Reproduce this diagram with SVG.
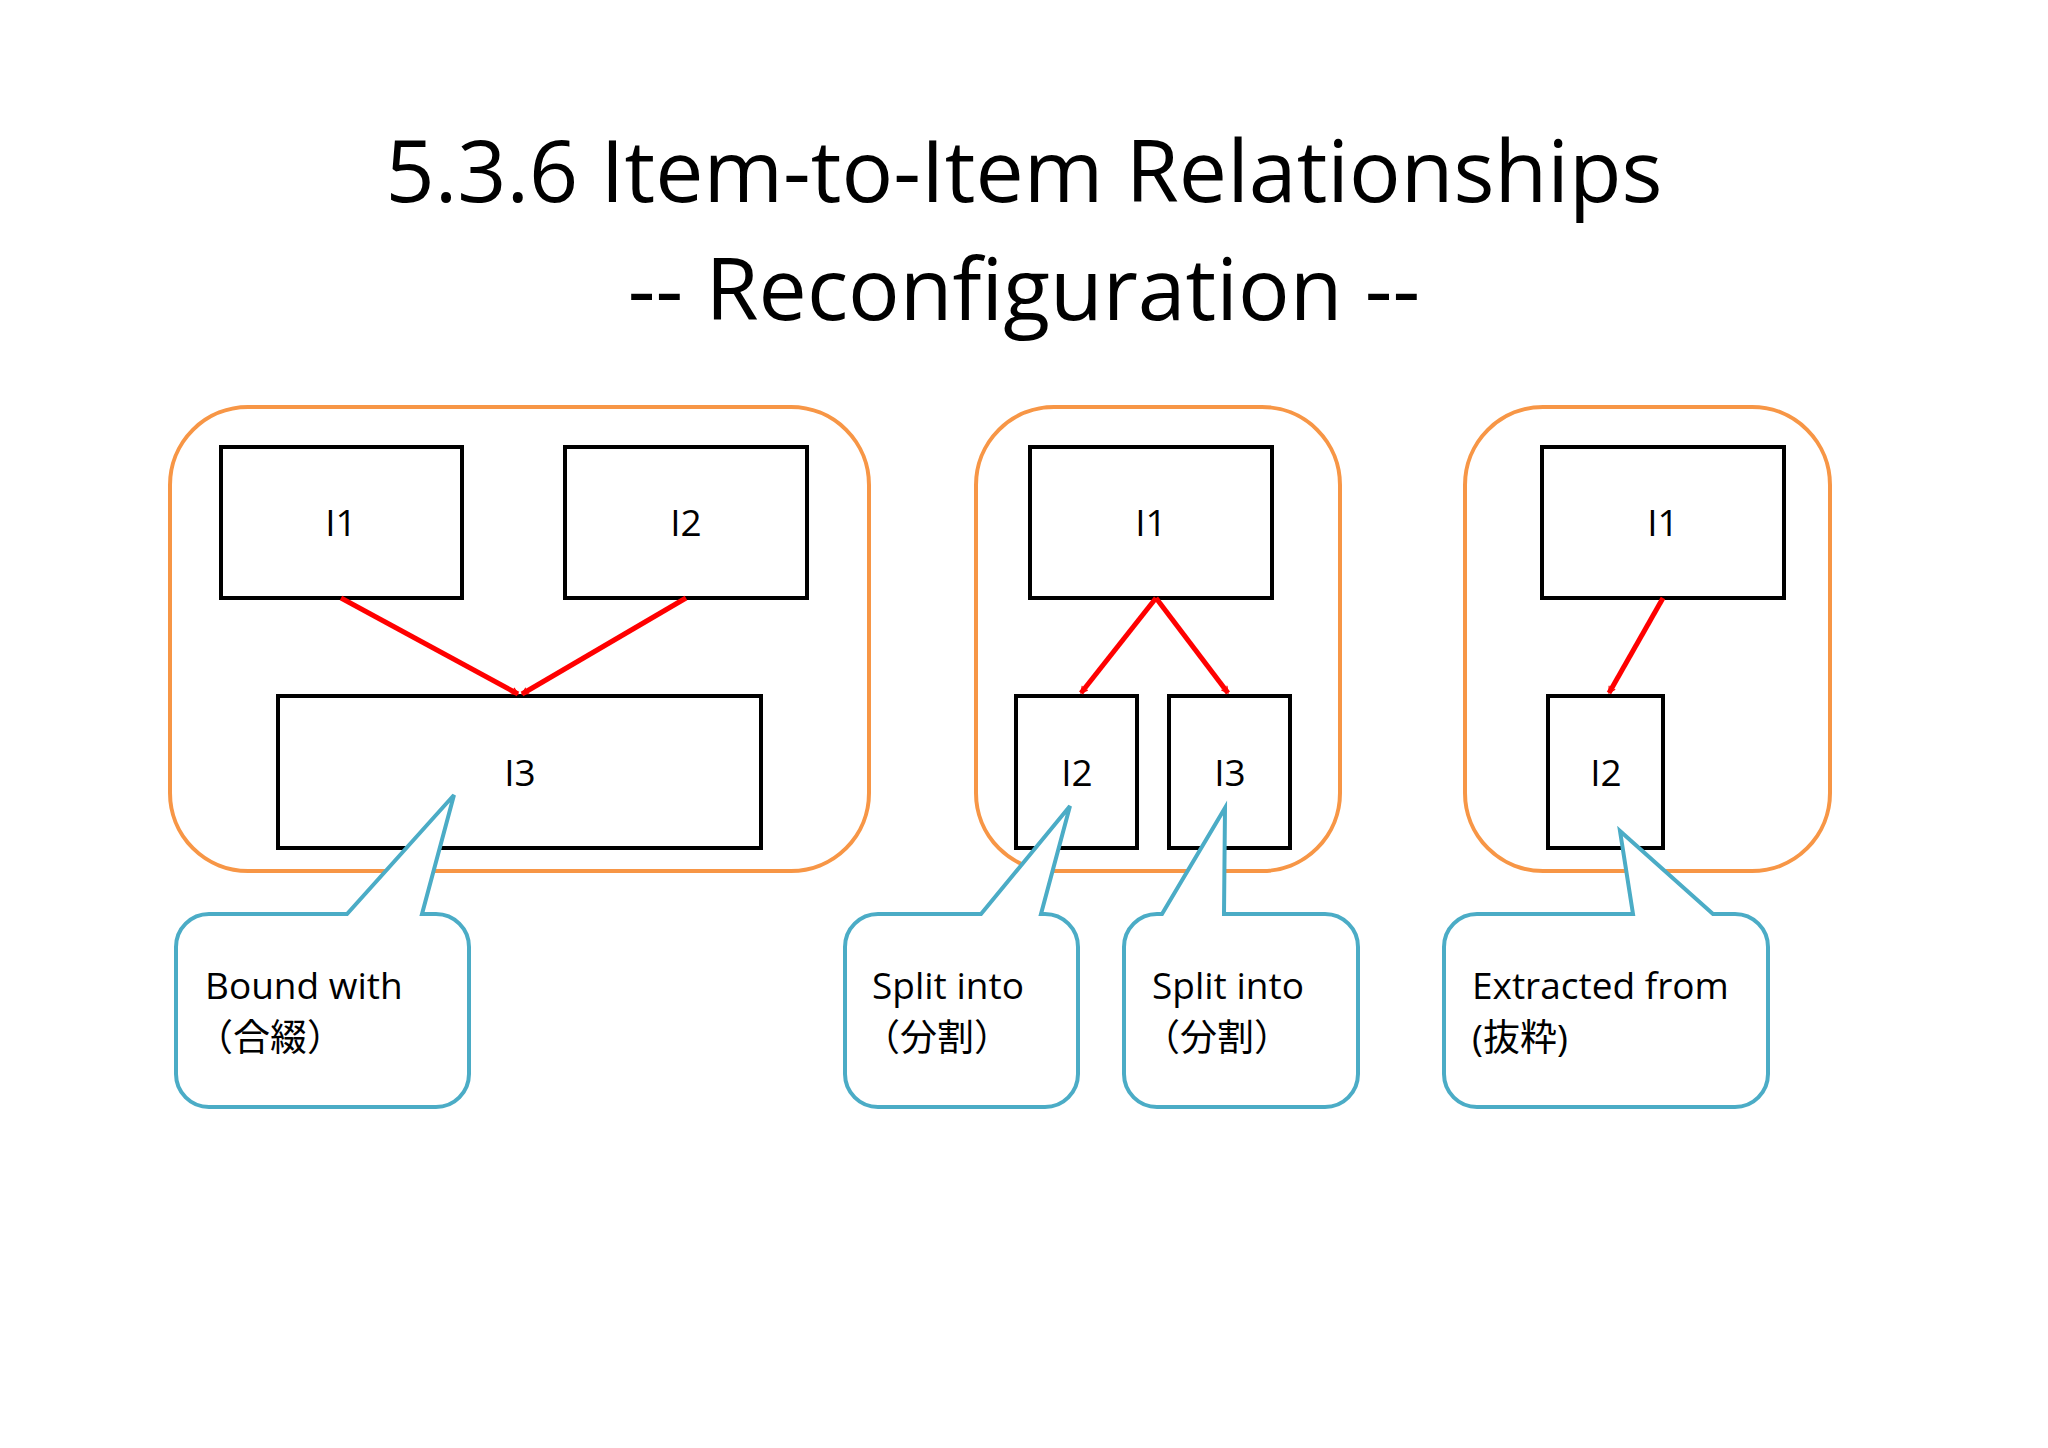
<svg xmlns="http://www.w3.org/2000/svg" width="2048" height="1448" viewBox="0 0 2048 1448">
<style>
.grp{fill:none;stroke:#F79646;stroke-width:4}
.box{fill:#fff;stroke:#000;stroke-width:4}
.lbl{font-family:"Open Sans","Noto Sans",sans-serif;font-size:37px;fill:#000;text-anchor:middle}
.call{fill:#fff;stroke:#4BACC6;stroke-width:4}
.ct{font-family:"Open Sans","Noto Sans","Noto Sans CJK JP",sans-serif;font-size:37px;fill:#000}
.title{font-family:"Open Sans","Noto Sans",sans-serif;font-size:86px;fill:#000;text-anchor:middle}
.arr{stroke:#FF0000;stroke-width:5;fill:none;marker-end:url(#ah)}
</style>
<defs>
<marker id="ah" viewBox="0 0 12 12" refX="11" refY="6" markerWidth="7" markerHeight="7" markerUnits="userSpaceOnUse" orient="auto" overflow="visible">
<path d="M0,0 L11,6 L0,12" fill="none" stroke="#FF0000" stroke-width="2" transform="scale(1)"/>
</marker>
</defs>
<rect width="2048" height="1448" fill="#fff"/>
<g id="title">
<text class="title" x="1024" y="202">5.3.6 Item-to-Item Relationships</text>
<text class="title" x="1024" y="320">-- Reconfiguration --</text>
</g>
<g id="group1"><rect class="grp" x="170" y="407" width="699" height="464" rx="78"/></g>
<g id="group2"><rect class="grp" x="976" y="407" width="364" height="464" rx="78"/></g>
<g id="group3"><rect class="grp" x="1465" y="407" width="365" height="464" rx="78"/></g>
<g id="g1-I1"><rect class="box" x="221" y="447" width="241" height="151"/><text class="lbl" x="341" y="536">I1</text></g>
<g id="g1-I2"><rect class="box" x="565" y="447" width="242" height="151"/><text class="lbl" x="686" y="536">I2</text></g>
<g id="g1-I3"><rect class="box" x="278" y="696" width="483" height="152"/><text class="lbl" x="520" y="786">I3</text></g>
<g id="g2-I1"><rect class="box" x="1030" y="447" width="242" height="151"/><text class="lbl" x="1151" y="536">I1</text></g>
<g id="g2-I2"><rect class="box" x="1016" y="696" width="121" height="152"/><text class="lbl" x="1077" y="786">I2</text></g>
<g id="g2-I3"><rect class="box" x="1169" y="696" width="121" height="152"/><text class="lbl" x="1230" y="786">I3</text></g>
<g id="g3-I1"><rect class="box" x="1542" y="447" width="242" height="151"/><text class="lbl" x="1663" y="536">I1</text></g>
<g id="g3-I2"><rect class="box" x="1548" y="696" width="115" height="152"/><text class="lbl" x="1606" y="786">I2</text></g>
<g id="connectors">
<line class="arr" x1="341" y1="598" x2="518" y2="694"/>
<line class="arr" x1="686" y1="598" x2="522" y2="694"/>
<line class="arr" x1="1156" y1="598" x2="1081" y2="693"/>
<line class="arr" x1="1156" y1="598" x2="1228" y2="693"/>
<line class="arr" x1="1663" y1="598" x2="1609" y2="693"/>
</g>
<g id="callout1">
<path class="call" d="M209,914 L347,914 L454,795 L422,914 L436,914 A33,33 0 0 1 469,947 L469,1074 A33,33 0 0 1 436,1107 L209,1107 A33,33 0 0 1 176,1074 L176,947 A33,33 0 0 1 209,914 Z"/>
<text class="ct" x="205" y="999">Bound with</text>
<text class="ct" x="196" y="1051">（合綴）</text>
</g>
<g id="callout2">
<path class="call" d="M878,914 L981,914 L1070,806 L1041,914 L1045,914 A33,33 0 0 1 1078,947 L1078,1074 A33,33 0 0 1 1045,1107 L878,1107 A33,33 0 0 1 845,1074 L845,947 A33,33 0 0 1 878,914 Z"/>
<text class="ct" x="872" y="999">Split into</text>
<text class="ct" x="863" y="1051">（分割）</text>
</g>
<g id="callout3">
<path class="call" d="M1157,914 L1162,914 L1225,808 L1224,914 L1325,914 A33,33 0 0 1 1358,947 L1358,1074 A33,33 0 0 1 1325,1107 L1157,1107 A33,33 0 0 1 1124,1074 L1124,947 A33,33 0 0 1 1157,914 Z"/>
<text class="ct" x="1152" y="999">Split into</text>
<text class="ct" x="1143" y="1051">（分割）</text>
</g>
<g id="callout4">
<path class="call" d="M1477,914 L1633,914 L1620,831 L1713,914 L1735,914 A33,33 0 0 1 1768,947 L1768,1074 A33,33 0 0 1 1735,1107 L1477,1107 A33,33 0 0 1 1444,1074 L1444,947 A33,33 0 0 1 1477,914 Z"/>
<text class="ct" x="1472" y="999">Extracted from</text>
<text class="ct" x="1472" y="1051">(抜粋)</text>
</g>
</svg>
